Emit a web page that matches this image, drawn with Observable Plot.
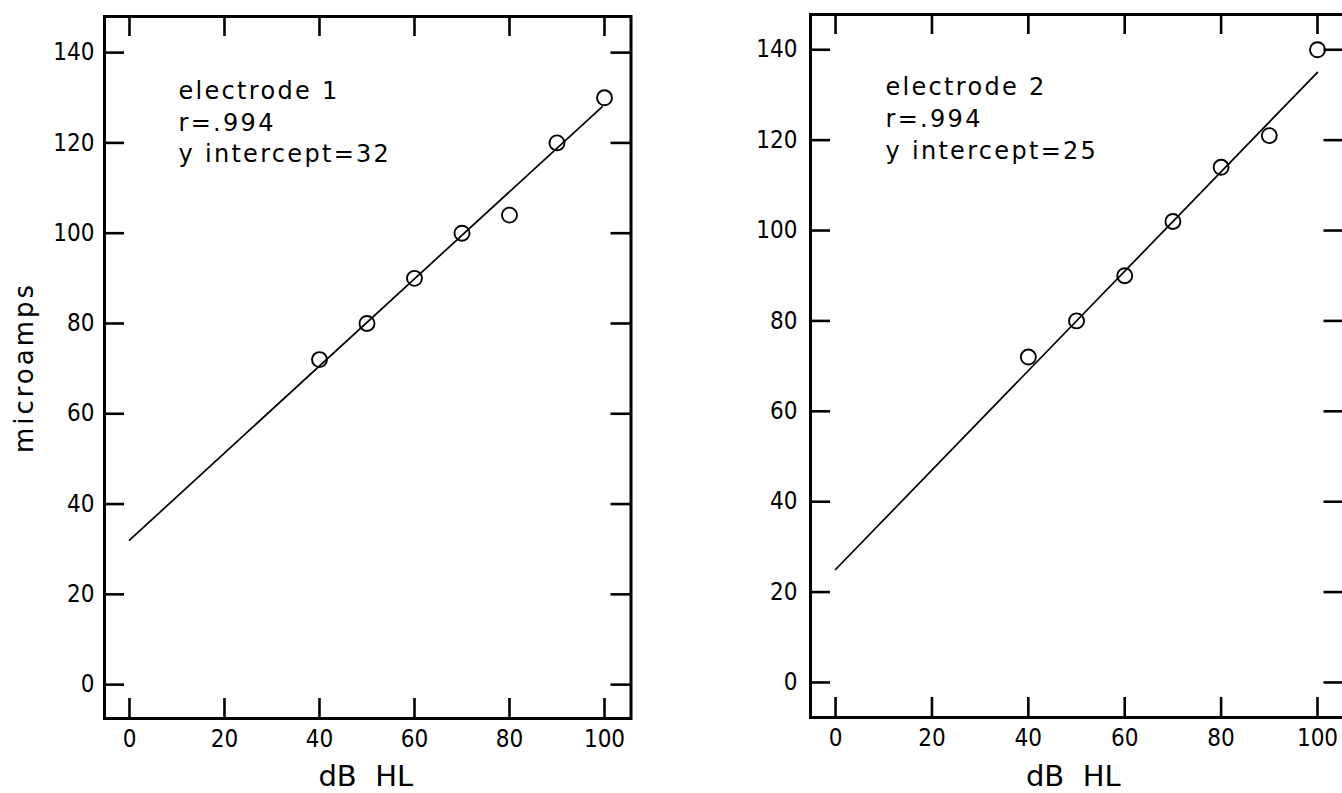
<!DOCTYPE html>
<html><head><meta charset="utf-8">
<script src="https://cdn.jsdelivr.net/npm/d3@7"></script>
<script src="https://cdn.jsdelivr.net/npm/@observablehq/plot@0.6"></script>
<style>
html,body{margin:0;padding:0;background:#fff;overflow:hidden;}
#wrap{position:relative;width:1342px;height:793px;overflow:hidden;background:#fff;}
#wrap svg{position:absolute;top:0;}
</style></head><body><div id="wrap"></div>
<script>
// ---- data ----
const dbHL = [40, 50, 60, 70, 80, 90, 100];
const electrode1 = [72, 80, 90, 100, 104, 120, 130];
const electrode2 = [72, 80, 90, 102, 114, 121, 140];
const fit1X = [0, 99.5];
const fit1Y = [32, 128];
const fit2X = [0, 100];
const fit2Y = [25, 135];
const xTicks = [0, 20, 40, 60, 80, 100];
const yTicks = [0, 20, 40, 60, 80, 100, 120, 140];
const labels1 = ["electrode 1", "r=.994", "y intercept=32"];
const labels2 = ["electrode 2", "r=.994", "y intercept=25"];
const xTitle = "dB\u00a0\u00a0HL";
const yTitle = "microamps";

const tickFont = "'Liberation Sans Narrow', 'DejaVu Sans Condensed', 'Liberation Sans', sans-serif";
const textFont = "'DejaVu Sans', sans-serif";

function panel(cfg) {
  const {left, width, height, mL, mR, mT, mB, xd, yd, ys, fitX, fitY, labels, annoDx, annoDy, yPad, titleDx, titleDy, showY} = cfg;
  const kx = (width - mL - mR) / (xd[1] - xd[0]);
  const ky = (height - mT - mB) / (yd[1] - yd[0]);
  const tl = 20; // tick length in px
  const pts = dbHL.map((x, i) => ({x, y: ys[i]}));
  const fit = fitX.map((x, i) => ({x, y: fitY[i]}));
  const marks = [
    Plot.ruleX(xTicks, {x: d => d, y1: yd[0], y2: yd[0] + tl / ky, strokeWidth: 2.6, stroke: "black"}),
    Plot.ruleX(xTicks, {x: d => d, y1: yd[1] - tl / ky, y2: yd[1], strokeWidth: 2.6, stroke: "black"}),
    Plot.ruleY(yTicks, {y: d => d, x1: xd[0], x2: xd[0] + tl / kx, strokeWidth: 2.6, stroke: "black"}),
    Plot.ruleY(yTicks, {y: d => d, x1: xd[1] - tl / kx, x2: xd[1], strokeWidth: 2.6, stroke: "black"}),
    Plot.frame({stroke: "black", strokeWidth: 3}),
    Plot.axisX(xTicks, {anchor: "bottom", tickSize: 0, tickPadding: 11, fontSize: 24, fontFamily: tickFont, label: null}),
    Plot.axisY(yTicks, {anchor: "left", tickSize: 0, tickPadding: yPad, fontSize: 24, fontFamily: tickFont, label: null}),
    Plot.line(fit, {x: "x", y: "y", stroke: "black", strokeWidth: 1.7}),
    Plot.dot(pts, {x: "x", y: "y", r: 7.5, stroke: "black", strokeWidth: 1.9, fill: "none"}),
    Plot.text([labels.join("\n")], {text: d => d, frameAnchor: "top-left", textAnchor: "start", lineAnchor: "top", lineHeight: 1.32, dx: annoDx, dy: annoDy, fontSize: 24, fontFamily: textFont, fill: "black"}),
    Plot.text([xTitle], {text: d => d, frameAnchor: "bottom", textAnchor: "middle", lineAnchor: "bottom", dx: titleDx, dy: titleDy, fontSize: 29, fontFamily: textFont, fill: "black"})
  ];
  if (showY) {
    marks.push(Plot.text([yTitle], {text: d => d, frameAnchor: "left", textAnchor: "middle", lineAnchor: "middle", rotate: -90, dx: -80, fontSize: 26, fontFamily: textFont, fill: "black"}));
  }
  const svg = Plot.plot({
    width, height,
    marginLeft: mL, marginRight: mR, marginTop: mT, marginBottom: mB,
    x: {domain: xd},
    y: {domain: yd},
    style: {background: "white", color: "black", fontFamily: textFont, overflow: "visible"},
    marks
  });
  // letter spacing for the plotter-style wide lettering
  d3.select(svg).selectAll("text").each(function () {
    const t = this.textContent;
    if (t.startsWith("electrode")) this.style.letterSpacing = "2.3px";
    else if (t === yTitle) this.style.letterSpacing = "3px";
  });
  svg.style.left = left + "px";
  document.getElementById("wrap").appendChild(svg);
}

panel({left: 0, width: 700, height: 793, mL: 104, mR: 69.5, mT: 16, mB: 75,
  xd: [-5.26, 105.58], yd: [-7.5, 148], ys: electrode1, fitX: fit1X, fitY: fit1Y,
  labels: labels1, annoDx: 74, annoDy: 60, yPad: 10, titleDx: -2, titleDy: 67, showY: true});
panel({left: 700, width: 700, height: 793, mL: 110, mR: 56.5, mT: 14, mB: 76,
  xd: [-5.2, 105.5], yd: [-7.75, 147.8], ys: electrode2, fitX: fit2X, fitY: fit2Y,
  labels: labels2, annoDx: 75, annoDy: 58.5, yPad: 13, titleDx: -4, titleDy: 68, showY: false});
</script></body></html>
